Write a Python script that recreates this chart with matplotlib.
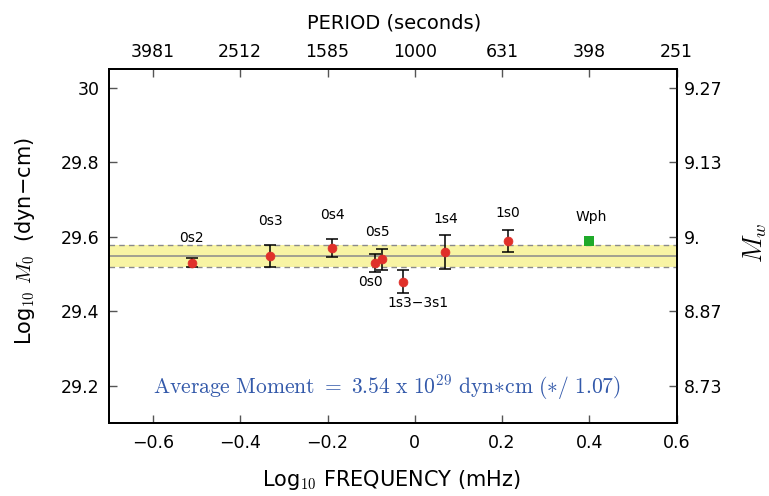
import numpy as np
import matplotlib
matplotlib.use('Agg')
import matplotlib.pyplot as plt

# ---------------- data ----------------
modes = ['0s2', '0s3', '0s4', '0s0', '0s5', '1s3\u22123s1', '1s4', '1s0']
log_freq = [-0.511, -0.331, -0.189, -0.0905, -0.0758, -0.0276, 0.0696, 0.2127]
log_m0 = [29.531, 29.549, 29.570, 29.530, 29.540, 29.480, 29.560, 29.589]
m0_err = [0.013, 0.030, 0.025, 0.025, 0.028, 0.030, 0.045, 0.029]
wph_label = 'Wph'
wph_freq = 0.399
wph_m0 = 29.589
avg_moment = 3.54e29
avg_factor = 1.07

x_ticks = [-0.6, -0.4, -0.2, 0.0, 0.2, 0.4, 0.6]
x_labels = ['\u22120.6', '\u22120.4', '\u22120.2', '0', '0.2', '0.4', '0.6']
period_labels = ['3981', '2512', '1585', '1000', '631', '398', '251']
y_ticks = [29.2, 29.4, 29.6, 29.8, 30.0]
y_labels = ['29.2', '29.4', '29.6', '29.8', '30']
mw_labels = ['8.73', '8.87', '9.', '9.13', '9.27']

# label offsets (pixels, relative to point): dx, dy (positive = up)
label_offsets = [(0, 24.7), (0, 35), (0, 33), (-4.6, -18.7), (-4.7, 27.3),
                 (15.6, -21.3), (1, 32.7), (0.4, 28)]
wph_offset = (2.4, 24.3)

# ---------------- figure ----------------
W, H = 769, 496
fig = plt.figure(figsize=(W / 100, H / 100), dpi=100)
L, R, T, B = 109.3, 676.7, 69.0, 423.3
ax = fig.add_axes([L / W, 1 - B / H, (R - L) / W, (B - T) / H])
ax.set_xlim(-0.7, 0.6)
ax.set_ylim(29.1, 30.05)

# band
avg = np.log10(avg_moment)
dlt = np.log10(avg_factor)
ax.axhspan(avg - dlt, avg + dlt, color='#f8f4a4', zorder=1, lw=0)
ax.axhline(avg, color='#8a8a8a', lw=1.1, zorder=2)
ax.axhline(avg + dlt, color='#8a8a8a', lw=1.0, ls=(0, (4, 3)), zorder=2)
ax.axhline(avg - dlt, color='#8a8a8a', lw=1.0, ls=(0, (4, 3)), zorder=2)

# points
ax.errorbar(log_freq, log_m0, yerr=m0_err, fmt='none',
            ecolor='black', elinewidth=1.1, capsize=4.5, capthick=1.1,
            zorder=3)
ax.plot(log_freq, log_m0, 'o', color='#e0302a', markersize=6.4,
        markeredgecolor='#e0302a', markeredgewidth=0.5, zorder=4)
ax.plot([wph_freq], [wph_m0], 's', color='#1faa2a', markersize=7.8,
        markeredgewidth=0, zorder=4)

for name, xv, yv, (dx, dy) in zip(modes, log_freq, log_m0, label_offsets):
    ax.annotate(name, (xv, yv), xytext=(dx * 0.72, dy * 0.72),
                textcoords='offset points', ha='center', va='center',
                fontsize=10, color='black', zorder=5)
ax.annotate(wph_label, (wph_freq, wph_m0),
            xytext=(wph_offset[0] * 0.72, wph_offset[1] * 0.72),
            textcoords='offset points', ha='center', va='center',
            fontsize=10, color='black', zorder=5)

# ticks
tick_kw = dict(direction='in', length=6, width=1.0, color='#555555',
               labelsize=12.5, labelcolor='black')
ax.set_xticks(x_ticks)
ax.set_xticklabels(x_labels)
ax.set_yticks(y_ticks)
ax.set_yticklabels(y_labels)
ax.tick_params(axis='x', pad=8, **tick_kw)
ax.tick_params(axis='y', pad=7, **tick_kw)

axt = ax.twiny()
axt.set_xlim(ax.get_xlim())
axt.set_xticks(x_ticks)
axt.set_xticklabels(period_labels)
axt.tick_params(axis='x', pad=6, **tick_kw)

axr = ax.twinx()
axr.set_ylim(ax.get_ylim())
axr.set_yticks(y_ticks)
axr.set_yticklabels(mw_labels)
axr.tick_params(axis='y', pad=5, **tick_kw)

for a in (ax, axt, axr):
    for s in a.spines.values():
        s.set_linewidth(1.2)
        s.set_color('black')

# axis labels
fig.text(25 / W, 1 - 241.5 / H, 'Log$_{\\mathsf{10}}$ $M_0$  (dyn\u2212cm)',
         rotation=90, ha='center', va='center', fontsize=15,
         math_fontfamily='cm')
fig.text(391 / W, 1 - 485.7 / H, 'Log$_{\\mathsf{10}}$ FREQUENCY (mHz)',
         ha='center', va='baseline', fontsize=15, math_fontfamily='cm')
fig.text(393.7 / W, 1 - 28.3 / H, 'PERIOD (seconds)', ha='center',
         va='baseline', fontsize=14)
fig.text(755 / W, 1 - 243 / H, '$M_w$', rotation=90, ha='center',
         va='center', fontsize=19, math_fontfamily='cm')

fig.text(152.7 / W, 1 - 393 / H,
         r'$\mathrm{Average\ Moment\ =\ 3.54\ x\ 10^{29}\ dyn{*}cm\ (*/\ 1.07)}$',
         ha='left', va='baseline', fontsize=15.5, color='#3359aa',
         math_fontfamily='cm')

fig.savefig('out.png', dpi=100)
